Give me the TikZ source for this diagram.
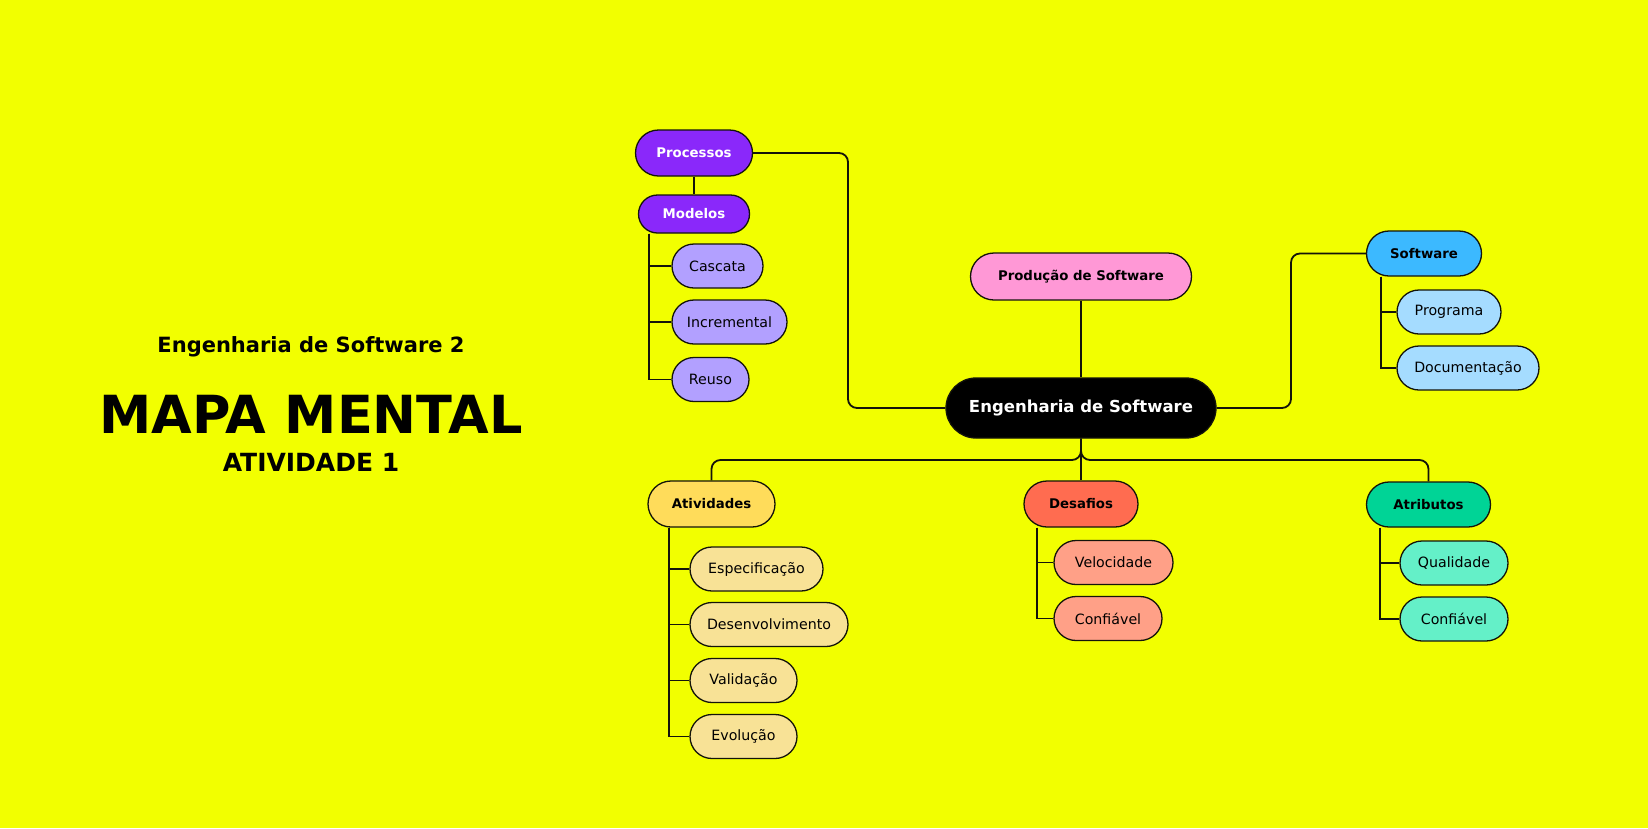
\documentclass[tikz,border=0pt]{standalone}
\usepackage{fontspec}
\setmainfont{DejaVu Sans}
\usetikzlibrary{backgrounds,calc}
\definecolor{bg}{RGB}{242,255,0}
\definecolor{purp}{RGB}{138,40,250}
\definecolor{lav}{RGB}{178,160,255}
\definecolor{pink}{RGB}{255,152,214}
\definecolor{sblue}{RGB}{60,185,255}
\definecolor{lblue}{RGB}{165,220,255}
\definecolor{ayel}{RGB}{255,220,90}
\definecolor{lyel}{RGB}{248,226,150}
\definecolor{dred}{RGB}{255,108,80}
\definecolor{lred}{RGB}{255,160,135}
\definecolor{agrn}{RGB}{0,212,150}
\definecolor{lgrn}{RGB}{100,240,200}
\definecolor{ink}{RGB}{20,20,10}
\begin{document}
\begin{tikzpicture}[x=1pt,y=-1pt,
  conn/.style={draw=ink, line width=1.8pt},
  pill/.style n args={2}{draw=ink, line width=1.3pt, rectangle, inner sep=0pt,
     minimum width=#1pt, minimum height=#2pt, rounded corners={#2*0.5pt},
     font=\fontsize{14.2}{17}\selectfont, text=black},
  hd/.style={font=\fontsize{13.3}{16}\selectfont\bfseries},
  wt/.style={text=white},
  ttl/.style={anchor=base, inner sep=0pt, font=\bfseries}]
\useasboundingbox (0,0) rectangle (1648,828);

% title
\node[ttl, font=\fontsize{21}{24}\selectfont\bfseries] (t1) at (311,352) {Engenharia de Software 2};
\node[ttl, font=\fontsize{52.5}{56}\selectfont\bfseries] (t2) at (311,433) {MAPA MENTAL};
\node[ttl, font=\fontsize{25}{28}\selectfont\bfseries] (t3) at (311,471) {ATIVIDADE 1};

% nodes
\node[pill={117}{46}, fill=purp, hd, wt] (proc) at (694,153) {Processos};
\node[pill={111}{38}, fill=purp, hd, wt] (mod) at (694,214) {Modelos};
\node[pill={91}{44}, fill=lav] (casc) at (717.5,266) {Cascata};
\node[pill={115}{44}, fill=lav] (incr) at (729.5,322) {Incremental};
\node[pill={77}{44}, fill=lav] (reuso) at (710.5,379.5) {Reuso};

\node[pill={270}{60}, fill=black, wt, font=\fontsize{16.5}{20}\selectfont\bfseries] (eng) at (1081,408) {Engenharia de Software};
\node[pill={221}{47}, fill=pink, hd] (prod) at (1081,276.5) {Produção de Software};

\node[pill={115}{45}, fill=sblue, hd] (soft) at (1424,253.5) {Software};
\node[pill={104}{44}, fill=lblue] (prog) at (1449,312) {Programa};
\node[pill={142}{44}, fill=lblue] (doc) at (1468,368) {Documentação};

\node[pill={127}{46}, fill=ayel, hd] (ativ) at (711.5,504) {Atividades};
\node[pill={133}{44}, fill=lyel] (esp) at (756.5,569) {Especificação};
\node[pill={158}{44}, fill=lyel] (desv) at (769,624.5) {Desenvolvimento};
\node[pill={107}{44}, fill=lyel] (val) at (743.5,680.5) {Validação};
\node[pill={107}{44}, fill=lyel] (evo) at (743.5,736.5) {Evolução};

\node[pill={114}{46}, fill=dred, hd] (desa) at (1081,504) {Desafios};
\node[pill={119}{44}, fill=lred] (vel) at (1113.5,562.5) {Velocidade};
\node[pill={108}{44}, fill=lred] (conf1) at (1108,618.5) {Confiável};

\node[pill={124}{45}, fill=agrn, hd] (atri) at (1428.5,504.5) {Atributos};
\node[pill={108}{44}, fill=lgrn] (qual) at (1454,563) {Qualidade};
\node[pill={108}{44}, fill=lgrn] (conf2) at (1454,619) {Confiável};

\begin{pgfonlayer}{background}
  \fill[bg] (0,0) rectangle (1648,828);
  % main branches
  \coordinate (pj) at (848,300);
  \draw[conn, rounded corners=9pt] (proc.east) -| (pj) |- (eng.west);
  \coordinate (sj) at (1291,330);
  \draw[conn, rounded corners=9pt] (eng.east) -| (sj) |- (soft.west);
  \draw[conn] (prod.south) -- (eng.north);
  \coordinate (bl) at (900,460);
  \coordinate (br) at (1250,460);
  \draw[conn, rounded corners=9pt] (eng.south) |- (bl) -| (ativ.north);
  \draw[conn, rounded corners=9pt] (eng.south) |- (br) -| (atri.north);
  \draw[conn] (eng.south) -- (desa.north);
  % processos / modelos
  \draw[conn] (proc.south) -- (mod.north);
  \coordinate (tm) at ([xshift=11pt]mod.south west);
  \draw[conn] (tm) |- (casc.west);
  \draw[conn] (tm) |- (incr.west);
  \draw[conn] (tm) |- (reuso.west);
  % software
  \coordinate (ts) at ([xshift=15pt]soft.south west);
  \draw[conn] (ts) |- (prog.west);
  \draw[conn] (ts) |- (doc.west);
  % atividades
  \coordinate (ta) at ([xshift=22pt]ativ.south west);
  \draw[conn] (ta) |- (esp.west);
  \draw[conn] (ta) |- (desv.west);
  \draw[conn] (ta) |- (val.west);
  \draw[conn] (ta) |- (evo.west);
  % desafios
  \coordinate (td) at ([xshift=14pt]desa.south west);
  \draw[conn] (td) |- (vel.west);
  \draw[conn] (td) |- (conf1.west);
  % atributos
  \coordinate (tt) at ([xshift=14pt]atri.south west);
  \draw[conn] (tt) |- (qual.west);
  \draw[conn] (tt) |- (conf2.west);
\end{pgfonlayer}
\end{tikzpicture}
\end{document}
